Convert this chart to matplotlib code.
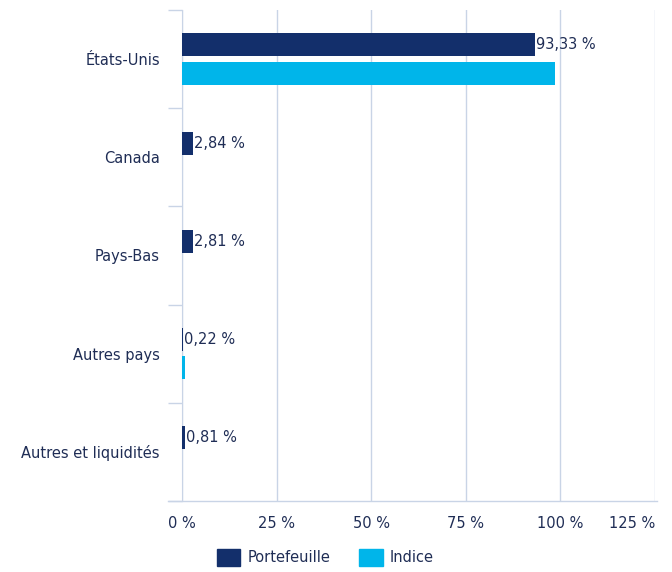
import matplotlib.pyplot as plt
import numpy as np
from matplotlib.patches import Patch

categories = ['États-Unis', 'Canada', 'Pays-Bas', 'Autres pays', 'Autres et liquidités']
portefeuille = [93.33, 2.84, 2.81, 0.22, 0.81]
indice = [98.7, 0.0, 0.0, 0.9, 0.0]
labels = ['93,33 %', '2,84 %', '2,81 %', '0,22 %', '0,81 %']
xticks = [0, 25, 50, 75, 100, 125]
xticklabels = ['0 %', '25 %', '50 %', '75 %', '100 %', '125 %']

DARK = '#132f6b'
CYAN = '#00b5ea'
GRID = '#c9d4e6'
TEXT = '#1f2d55'
FS = 10.5

plt.rcParams['font.family'] = ['DejaVu Sans']

fig = plt.figure(figsize=(6.72, 5.72), dpi=100)
ax = fig.add_axes([182 / 672, 1 - 501 / 572, (655 - 182) / 672, (501 - 10) / 572])

y = np.arange(len(categories))
h = 0.235
off = 0.145
ax.barh(y - off, portefeuille, height=h, color=DARK, zorder=3)
ax.barh(y + off, indice, height=h, color=CYAN, zorder=3)

for yi, v, lab in zip(y, portefeuille, labels):
    ax.text(v + 0.3, yi - off, lab, va='center', ha='left', fontsize=FS, color=TEXT, zorder=4)

ax.set_xlim(0, 125)
ax.set_ylim(len(categories) - 0.5, -0.5)
ax.set_xticks(xticks)
ax.set_xticklabels(xticklabels, fontsize=FS, color=TEXT)
ax.get_xticklabels()[-1].set_horizontalalignment('right')
ax.set_yticks(y)
ax.set_yticklabels(categories, fontsize=FS, color=TEXT)
ax.tick_params(axis='y', length=0, pad=16)
ax.tick_params(axis='x', length=0, pad=11)

# category separators on the left
ax.set_yticks(np.arange(len(categories) + 1) - 0.5, minor=True)
ax.tick_params(axis='y', which='minor', length=10, color=GRID, width=1)

ax.grid(axis='x', color=GRID, linewidth=1, zorder=0)
for s in ['top', 'right']:
    ax.spines[s].set_visible(False)
ax.spines['left'].set_color(GRID)
ax.spines['bottom'].set_visible(False)
ax.plot([-3.7, 125.5], [len(categories) - 0.5] * 2, color=GRID, linewidth=1,
        clip_on=False, zorder=1)

handles = [Patch(color=DARK, label='Portefeuille'), Patch(color=CYAN, label='Indice')]
fig.legend(handles=handles, loc='lower center', bbox_to_anchor=(0.484, -0.012), ncol=2,
           frameon=False, fontsize=FS, handlelength=1.6, handleheight=1.35,
           handletextpad=0.5, columnspacing=2.0, labelcolor=TEXT)

fig.savefig('out.png', dpi=100)
